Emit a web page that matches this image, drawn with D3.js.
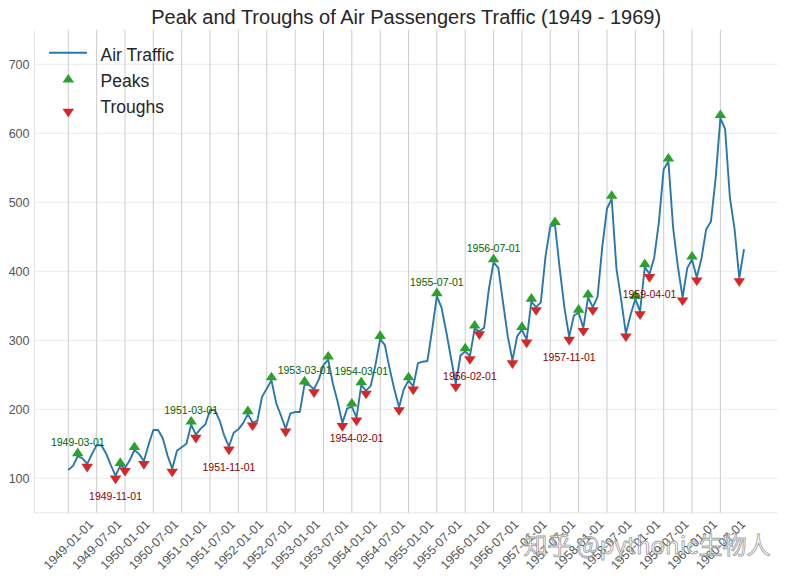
<!DOCTYPE html>
<html>
<head>
<meta charset="utf-8">
<script src="https://cdn.jsdelivr.net/npm/d3@7"></script>
<style>
  html, body { margin: 0; padding: 0; background: #fff; }
  svg { display: block; font-family: "Liberation Sans", Arial, sans-serif; }
</style>
</head>
<body>
<svg id="chart" width="786" height="581"></svg>
<script>
// ---- Data (AirPassengers monthly traffic, 1949-01 .. 1960-12) ----
const traffic1949 = [112, 118, 132, 129, 121, 135, 148, 148, 136, 119, 104, 118];
const traffic1950 = [115, 126, 141, 135, 125, 149, 170, 170, 158, 133, 114, 140];
const traffic1951 = [145, 150, 178, 163, 172, 178, 199, 199, 184, 162, 146, 166];
const traffic1952 = [171, 180, 193, 181, 183, 218, 230, 242, 209, 191, 172, 194];
const traffic1953 = [196, 196, 236, 235, 229, 243, 264, 272, 237, 211, 180, 201];
const traffic1954 = [204, 188, 235, 227, 234, 264, 302, 293, 259, 229, 203, 229];
const traffic1955 = [242, 233, 267, 269, 270, 315, 364, 347, 312, 274, 237, 278];
const traffic1956 = [284, 277, 317, 313, 318, 374, 413, 405, 355, 306, 271, 306];
const traffic1957 = [315, 301, 356, 348, 355, 422, 465, 467, 404, 347, 305, 336];
const traffic1958 = [340, 318, 362, 348, 363, 435, 491, 505, 404, 359, 310, 337];
const traffic1959 = [360, 342, 406, 396, 420, 472, 548, 559, 463, 407, 362, 405];
const traffic1960 = [417, 391, 419, 461, 472, 535, 622, 606, 508, 461, 390, 432];
const years = [1949, 1950, 1951, 1952, 1953, 1954, 1955, 1956, 1957, 1958, 1959, 1960];
const monthLabels = ["01","02","03","04","05","06","07","08","09","10","11","12"];

const peakLabelDates = ["1949-03-01", "1951-03-01", "1953-03-01", "1954-03-01", "1955-07-01", "1956-07-01"];
const troughLabelDates = ["1949-11-01", "1951-11-01", "1954-02-01", "1956-02-01", "1957-11-01", "1959-04-01"];
const yTickValues = [100, 200, 300, 400, 500, 600, 700];

const titleText = "Peak and Troughs of Air Passengers Traffic (1949 - 1969)";
const legendLabels = ["Air Traffic", "Peaks", "Troughs"];
const watermarkText = "知乎 @pythonic生物人";

// ---- Assemble ----
const traffic = [].concat(traffic1949, traffic1950, traffic1951, traffic1952, traffic1953, traffic1954,
                          traffic1955, traffic1956, traffic1957, traffic1958, traffic1959, traffic1960);
const dates = [];
years.forEach(y => monthLabels.forEach(m => dates.push(`${y}-${m}-01`)));
const data = traffic.map((v, i) => ({ i, date: dates[i], v }));

// peaks & troughs via second difference of signs
const sg = d3.pairs(traffic, (a, b) => Math.sign(b - a));
const peaks = [], troughs = [];
for (let i = 1; i < traffic.length - 1; i++) {
  if (sg[i - 1] - sg[i] === 2 || (sg[i - 1] === 1 && sg[i] === -1)) peaks.push(i);
  if (sg[i - 1] === -1 && sg[i] === 1) troughs.push(i);
}

// ---- Layout ----
const C = {
  line: "#2a78ab", green: "#2ca02c", red: "#d62728",
  dgreen: "#006400", dred: "#8b0000", grid: "#cccccc", tick: "#555555"
};
const svg = d3.select("#chart");
const n = traffic.length;
const pad = (n - 1) * 0.05;
const x = d3.scaleLinear().domain([-pad, n - 1 + pad]).range([34.5, 777.8]);
const y = d3.scaleLinear().domain([50, 750]).range([512.8, 29.8]);

const xTickIdx = d3.range(0, n, 6);

// horizontal grid
svg.append("g").selectAll("line").data(yTickValues).join("line")
  .attr("x1", x.range()[0]).attr("x2", x.range()[1])
  .attr("y1", d => y(d)).attr("y2", d => y(d))
  .attr("stroke", C.grid).attr("stroke-opacity", 0.4).attr("stroke-width", 1);

// vertical grid
svg.append("g").selectAll("line").data(xTickIdx).join("line")
  .attr("x1", d => x(d)).attr("x2", d => x(d))
  .attr("y1", y.range()[0]).attr("y2", y.range()[1])
  .attr("stroke", C.grid).attr("stroke-width", 1);

// spines (faint)
svg.append("line").attr("x1", x.range()[0]).attr("x2", x.range()[0])
  .attr("y1", y.range()[0]).attr("y2", y.range()[1])
  .attr("stroke", C.grid).attr("stroke-opacity", 0.5);
svg.append("line").attr("x1", x.range()[0]).attr("x2", x.range()[1])
  .attr("y1", y.range()[0]).attr("y2", y.range()[0])
  .attr("stroke", C.grid).attr("stroke-opacity", 0.5);

// y tick labels
svg.append("g").selectAll("text").data(yTickValues).join("text")
  .attr("x", 29.5).attr("y", d => y(d)).attr("dy", "0.36em")
  .attr("text-anchor", "end").attr("font-size", 12.5).attr("fill", C.tick)
  .text(d => d);

// x tick labels (rotated 45)
svg.append("g").selectAll("text").data(xTickIdx).join("text")
  .attr("transform", d => `translate(${x(d)},544.5) rotate(-45)`)
  .attr("text-anchor", "middle").attr("dy", "0.36em")
  .attr("font-size", 12.5).attr("fill", C.tick)
  .text(d => dates[d]);

// line
const lineGen = d3.line().x(d => x(d.i)).y(d => y(d.v));
svg.append("path").datum(data)
  .attr("d", lineGen).attr("fill", "none")
  .attr("stroke", C.line).attr("stroke-width", 1.9).attr("stroke-linejoin", "round");

// caret markers (base on the data point)
const W = 5.8, H = 8.6;
const caretUp = (cx, cy) => `M${cx - W},${cy}L${cx + W},${cy}L${cx},${cy - H}Z`;
const caretDown = (cx, cy) => `M${cx - W},${cy}L${cx + W},${cy}L${cx},${cy + H}Z`;

svg.append("g").selectAll("path").data(peaks).join("path")
  .attr("d", i => caretUp(x(i), y(traffic[i]))).attr("fill", C.green);
svg.append("g").selectAll("path").data(troughs).join("path")
  .attr("d", i => caretDown(x(i), y(traffic[i]))).attr("fill", C.red);

// annotations
svg.append("g").selectAll("text").data(peakLabelDates).join("text")
  .attr("x", d => x(dates.indexOf(d)))
  .attr("y", d => y(traffic[dates.indexOf(d)] + 15))
  .attr("text-anchor", "middle").attr("font-size", 10.5).attr("fill", C.dgreen)
  .text(d => d);
svg.append("g").selectAll("text").data(troughLabelDates).join("text")
  .attr("x", d => x(dates.indexOf(d)))
  .attr("y", d => y(traffic[dates.indexOf(d)] - 35))
  .attr("text-anchor", "middle").attr("font-size", 10.5).attr("fill", C.dred)
  .text(d => d);

// title
svg.append("text").attr("x", (x.range()[0] + x.range()[1]) / 2).attr("y", 23.5)
  .attr("text-anchor", "middle").attr("font-size", 20).attr("fill", "#262626")
  .text(titleText);

// legend
const lg = svg.append("g");
lg.append("line").attr("x1", 49).attr("x2", 87).attr("y1", 52.7).attr("y2", 52.7)
  .attr("stroke", C.line).attr("stroke-width", 2);
lg.append("path").attr("d", caretUp(68.3, 82.5)).attr("fill", C.green);
lg.append("path").attr("d", caretDown(68.3, 108.7)).attr("fill", C.red);
lg.selectAll("text").data(legendLabels).join("text")
  .attr("x", 100.5).attr("y", (d, k) => 60.5 + k * 26)
  .attr("font-size", 17.5).attr("fill", "#262626")
  .text(d => d);

// watermark
svg.append("text").attr("x", 647).attr("y", 554)
  .attr("text-anchor", "middle").attr("font-size", 24)
  .attr("font-family", "'Noto Sans CJK SC', 'Noto Sans', sans-serif")
  .attr("fill", "#ffffff").attr("fill-opacity", 0.6)
  .attr("stroke", "#8a8a8a").attr("stroke-width", 0.9).attr("stroke-opacity", 0.8)
  .text(watermarkText);
</script>
</body>
</html>
